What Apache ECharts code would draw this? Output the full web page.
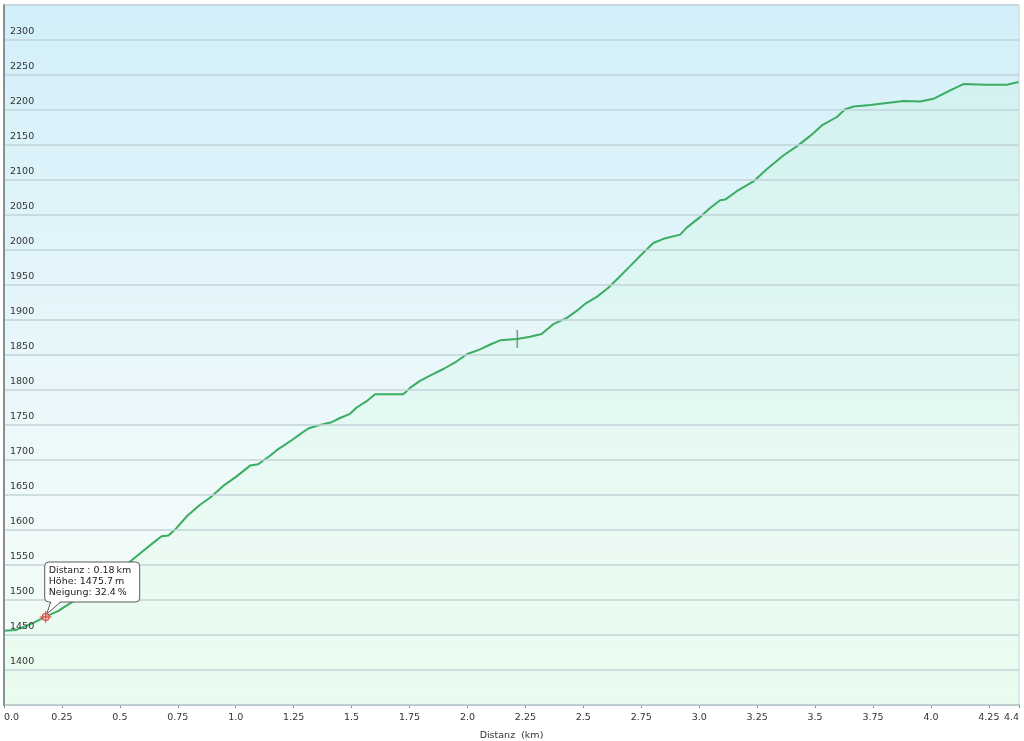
<!DOCTYPE html>
<html>
<head>
<meta charset="utf-8">
<script src="https://cdn.jsdelivr.net/npm/echarts@6/dist/echarts.min.js"></script>
<style>
html,body{margin:0;padding:0;background:#fff;}
#chart{width:1024px;height:741px;}
</style>
</head>
<body>
<div id="chart"></div>
<script>
// Distance along route (km)
const distanceKm = [0, 0.05, 0.125, 0.177, 0.233, 0.293, 0.357, 0.414, 0.47, 0.53, 0.60, 0.645, 0.68, 0.71, 0.745, 0.79, 0.846, 0.889, 0.946, 1.005, 1.062, 1.097, 1.148, 1.177, 1.213, 1.249, 1.278, 1.313, 1.35, 1.414, 1.45, 1.493, 1.522, 1.565, 1.601, 1.723, 1.752, 1.795, 1.853, 1.896, 1.954, 1.997, 2.054, 2.098, 2.141, 2.213, 2.27, 2.32, 2.37, 2.429, 2.471, 2.507, 2.558, 2.608, 2.651, 2.702, 2.752, 2.802, 2.846, 2.918, 2.946, 3.004, 3.047, 3.09, 3.112, 3.162, 3.234, 3.29, 3.363, 3.421, 3.479, 3.529, 3.594, 3.63, 3.666, 3.738, 3.81, 3.882, 3.954, 4.011, 4.083, 4.14, 4.241, 4.327, 4.378];
// Elevation (m)
const elevationM = [1456, 1457, 1467, 1476, 1484, 1497, 1505, 1515, 1530, 1551, 1570, 1582, 1591, 1592, 1603, 1620, 1636, 1646, 1663, 1677, 1692, 1694, 1706, 1714, 1722, 1730, 1737, 1745, 1749, 1754, 1760, 1766, 1775, 1784, 1794, 1794, 1803, 1813, 1823, 1830, 1841, 1851, 1858, 1865, 1871, 1873, 1876, 1880, 1894, 1903, 1913, 1923, 1933, 1946, 1960, 1977, 1994, 2010, 2016, 2022, 2032, 2047, 2060, 2071, 2072, 2084, 2098, 2115, 2135, 2148, 2163, 2178, 2190, 2201, 2205, 2207, 2210, 2213, 2212, 2216, 2228, 2237, 2236, 2236, 2240];
// Waypoint marker
const waypoint = [2.215, 1873];
// Tooltip callout
const tipPoint = [0.18, 1475.7];
const tipLines = ['Distanz : 0.18\u2009km', 'Höhe: 1475.7\u2009m', 'Neigung: 32.4\u2009%'];
const xAxisTitle = 'Distanz  (km)';
const yMin = 1350, yMax = 2350, yStep = 50;
const xMin = 0, xMax = 4.38, xStep = 0.25;

const FONT = 'DejaVu Sans';
const chart = echarts.init(document.getElementById('chart'), null, {renderer: 'canvas'});

const profile = distanceKm.map((d, i) => [d, elevationM[i]]);

function fmtX(v) {
  const r = Math.round(v * 100) / 100;
  if (Math.abs(r / xStep - Math.round(r / xStep)) > 1e-6) return r.toFixed(1);
  if (Number.isInteger(r)) return r.toFixed(1);
  return String(r);
}

chart.setOption({
  animation: false,
  backgroundColor: '#ffffff',
  grid: {
    left: 4, right: 5, top: 5, bottom: 36,
    outerBoundsMode: 'none',
    containLabel: false,
    show: true,
    borderColor: '#c8cfd2',
    borderWidth: 1,
    backgroundColor: new echarts.graphic.LinearGradient(0, 0, 0, 1, [
      {offset: 0, color: '#d2eff9'},
      {offset: 0.45, color: '#e6f6fb'},
      {offset: 0.75, color: '#f2fbfa'},
      {offset: 1, color: '#eefbf2'}
    ])
  },
  xAxis: {
    type: 'value',
    min: xMin, max: xMax, interval: xStep,
    name: xAxisTitle,
    nameLocation: 'middle',
    nameGap: 26,
    nameTextStyle: {fontFamily: FONT, fontSize: 9.5, color: '#333'},
    axisLine: {show: true, onZero: false, lineStyle: {color: '#8a8f92', width: 1.5}},
    axisTick: {show: true, length: 3, lineStyle: {color: '#8a8f92'}},
    axisLabel: {
      fontFamily: FONT, fontSize: 9.5, color: '#333', margin: 8,
      formatter: fmtX,
      showMinLabel: true, showMaxLabel: true,
      alignMinLabel: 'left', alignMaxLabel: 'right'
    },
    splitLine: {show: false}
  },
  yAxis: {
    type: 'value',
    z: 5,
    min: yMin, max: yMax, interval: yStep,
    axisLine: {show: true, lineStyle: {color: '#8a8f92', width: 2}},
    axisTick: {show: false},
    axisLabel: {
      inside: true, margin: 6,
      fontFamily: FONT, fontSize: 9.5, color: '#333',
      verticalAlign: 'bottom', padding: [0, 0, 3, 0],
      formatter: v => (v === yMin || v === yMax) ? '' : String(v)
    },
    splitLine: {show: true, lineStyle: {color: '#c2d3d9', width: 1.5}}
  },
  series: [
    {
      type: 'line',
      data: profile,
      showSymbol: false,
      lineStyle: {color: '#3aad62', width: 2},
      itemStyle: {color: '#3aad62'},
      areaStyle: {
        color: new echarts.graphic.LinearGradient(0, 0, 0, 1, [
          {offset: 0, color: 'rgba(200,245,220,0.45)'},
          {offset: 1, color: 'rgba(225,252,232,0.45)'}
        ])
      },
      z: 2
    },
    {
      type: 'scatter',
      data: [waypoint],
      symbol: 'rect',
      symbolSize: [1.5, 18],
      itemStyle: {color: '#3a9a5a'},
      z: 3
    },
    {
      type: 'custom',
      coordinateSystem: 'cartesian2d',
      data: [tipPoint],
      z: 10,
      renderItem: function (params, api) {
        const p = api.coord([api.value(0), api.value(1)]);
        const L = p[0] - 1, T = p[1] - 55, W = 95, H = 40;
        const B = T + H;
        const children = [
          {type: 'rect', shape: {x: L, y: T, width: W, height: H, r: 4},
           style: {fill: '#ffffff', stroke: '#5a5a5a', lineWidth: 1}},
          {type: 'polygon', shape: {points: [[p[0] + 5, B - 1], [p[0] + 1, p[1] - 3], [p[0] + 15, B - 1]]},
           style: {fill: '#ffffff'}},
          {type: 'polyline', shape: {points: [[p[0] + 5, B], [p[0] + 1, p[1] - 3], [p[0] + 15, B]]},
           style: {stroke: '#5a5a5a', lineWidth: 1, fill: null}},
          {type: 'text', style: {x: L + 4, y: T + 3, text: tipLines.join('\n'), fontFamily: FONT, fontSize: 9.5,
            lineHeight: 11, fill: '#222', textVerticalAlign: 'top'}},
          {type: 'circle', shape: {cx: p[0], cy: p[1], r: 3.5},
           style: {fill: 'rgba(255,170,170,0.6)', stroke: '#e04848', lineWidth: 1.2}},
          {type: 'line', shape: {x1: p[0] - 6, y1: p[1], x2: p[0] + 6, y2: p[1]},
           style: {stroke: '#e04848', lineWidth: 1}},
          {type: 'line', shape: {x1: p[0], y1: p[1] - 6, x2: p[0], y2: p[1] + 6},
           style: {stroke: '#e04848', lineWidth: 1}}
        ];
        return {type: 'group', children: children};
      }
    }
  ]
});
</script>
</body>
</html>
